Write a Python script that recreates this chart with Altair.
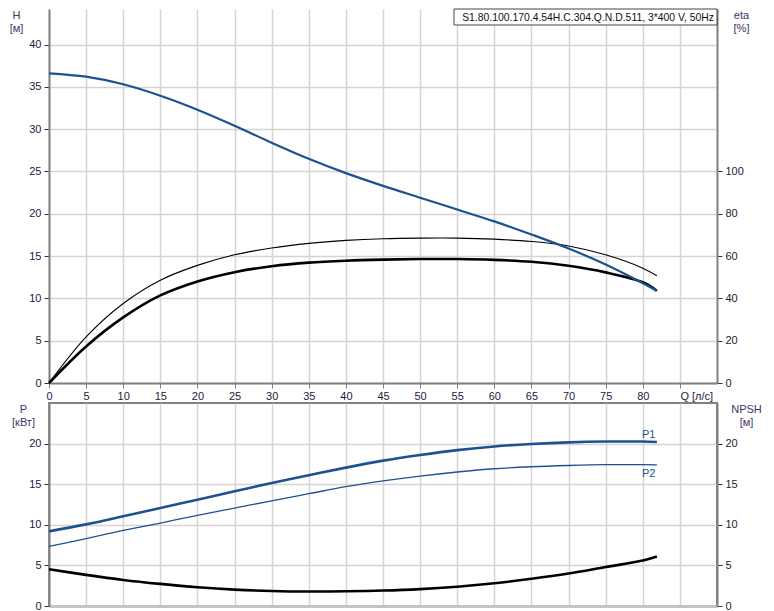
import altair as alt
import pandas as pd

# ---------------- data ----------------
Q = [0, 5, 10, 15, 20, 25, 30, 35, 40, 45, 50, 55, 60, 65, 70, 75, 80, 81.9]
H = [36.6, 36.2, 35.3, 33.95, 32.3, 30.4, 28.4, 26.5, 24.8, 23.3, 21.9, 20.5, 19.1, 17.55, 15.9, 14.0, 11.8, 10.9]
ETA = [0, 17.3, 31.0, 41.4, 48.0, 52.4, 55.2, 56.9, 57.8, 58.3, 58.6, 58.6, 58.2, 57.3, 55.4, 52.3, 47.6, 43.6]
ETA_THIN = [0, 21.8, 37.6, 48.6, 55.6, 60.6, 63.8, 66.0, 67.4, 68.2, 68.5, 68.5, 68.0, 66.9, 64.8, 60.6, 54.3, 50.7]
P1 = [9.19, 10.05, 11.04, 12.06, 13.09, 14.12, 15.15, 16.1, 17.04, 17.9, 18.6, 19.2, 19.65, 19.95, 20.15, 20.25, 20.25, 20.2]
P2 = [7.33, 8.3, 9.3, 10.22, 11.16, 12.06, 12.96, 13.83, 14.69, 15.4, 16.0, 16.5, 16.9, 17.15, 17.3, 17.4, 17.4, 17.37]
NPSH = [4.53, 3.83, 3.21, 2.72, 2.31, 2.02, 1.85, 1.78, 1.81, 1.9, 2.08, 2.38, 2.8, 3.35, 4.0, 4.8, 5.6, 6.1]

X_TICKS = [0, 5, 10, 15, 20, 25, 30, 35, 40, 45, 50, 55, 60, 65, 70, 75, 80, 85]
H_TICKS = [0, 5, 10, 15, 20, 25, 30, 35, 40]
ETA_TICKS = [0, 20, 40, 60, 80, 100]
P_TICKS = [0, 5, 10, 15, 20]
CURVE_LABELS = ["P1", "P2"]
CURVE_LABEL_Q = [80.8, 80.8]
CURVE_LABEL_P = [21.1, 16.3]
TITLE_TEXT = "S1.80.100.170.4.54H.C.304.Q.N.D.511, 3*400 V, 50Hz"

# ---------------- styling ----------------
FONT = "Liberation Sans"
BLUE = "#1d5290"
GRID = "#d4d4d4"
AX = "#808080"
LBL = "#1b1b3c"
TTL = "#46306a"
W = 668
H_TOP = 374
H_BOT = 203
INTERP = "catmull-rom"

dfH = pd.DataFrame({"Q": Q, "H": H})
dfEta = pd.DataFrame({"Q": Q, "eta": ETA})
dfEta2 = pd.DataFrame({"Q": Q, "eta": ETA_THIN})
dfP1 = pd.DataFrame({"Q": Q, "P": P1})
dfP2 = pd.DataFrame({"Q": Q, "P": P2})
dfN = pd.DataFrame({"Q": Q, "NPSH": NPSH})
dfLab = pd.DataFrame({"Q": CURVE_LABEL_Q, "P": CURVE_LABEL_P, "t": CURVE_LABELS})
dfTitle = pd.DataFrame({"t": [TITLE_TEXT]})

xs = alt.Scale(domain=[0, 90], nice=False, zero=False)

x_axis_top = alt.Axis(
    values=X_TICKS, grid=True, gridColor=GRID, gridWidth=1.5,
    domainColor=AX, domainWidth=2, tickColor=AX, tickSize=5, tickWidth=1,
    labelColor=LBL, labelFont=FONT, labelFontSize=11, labelPadding=2,
    labelOverlap=False, labelFlush=False,
    labelExpr="datum.value == 85 ? 'Q [л/с]' : datum.label",
    labelAlign={"condition": {"test": "datum.value == 85", "value": "left"}, "value": "center"},
    title=None,
)
x_axis_bot = alt.Axis(
    values=X_TICKS, grid=True, gridColor=GRID, gridWidth=1.5,
    domainColor="#c4c4c4", domainWidth=3, ticks=False, labels=False, title=None,
)


def yaxis(orient, values, title, tx, grid):
    return alt.Axis(
        orient=orient, values=values, grid=grid, gridColor=GRID, gridWidth=1.5,
        domainColor=AX, domainWidth=2, tickColor="#333333", tickSize=5,
        labelColor=LBL, labelFont=FONT, labelFontSize=11, labelPadding=3,
        title=title, titleAngle=0, titleAlign="center", titleBaseline="top",
        titleX=tx, titleY=0, titleFont=FONT, titleFontSize=11,
        titleFontWeight="normal", titleColor=TTL, titleLineHeight=13,
    )


h_scale = alt.Scale(domain=[0, 44.2], nice=False)
eta_scale = alt.Scale(domain=[0, 176.8], nice=False)
p_scale = alt.Scale(domain=[0, 25], nice=False)

# ---------------- top panel ----------------
h_line = alt.Chart(dfH).mark_line(color=BLUE, strokeWidth=2.2, interpolate=INTERP).encode(
    x=alt.X("Q:Q", scale=xs, axis=x_axis_top),
    y=alt.Y("H:Q", scale=h_scale, axis=yaxis("left", H_TICKS, ["H", "[м]"], -33, True)),
)
eta_line = alt.Chart(dfEta).mark_line(color="black", strokeWidth=2.6, interpolate=INTERP).encode(
    x=alt.X("Q:Q", scale=xs, axis=x_axis_top),
    y=alt.Y("eta:Q", scale=eta_scale, axis=yaxis("right", ETA_TICKS, ["eta", "[%]"], 24, False)),
)
eta_thin = alt.Chart(dfEta2).mark_line(color="black", strokeWidth=1.1, interpolate=INTERP).encode(
    x=alt.X("Q:Q", scale=xs, axis=x_axis_top),
    y=alt.Y("eta:Q", scale=eta_scale, axis=None),
)
box = alt.Chart(dfTitle).mark_rect(fill="white", stroke="#444444", strokeWidth=1).encode(
    x=alt.value(405), x2=alt.value(W), y=alt.value(0), y2=alt.value(16)
)
box_text = alt.Chart(dfTitle).mark_text(align="right", baseline="middle", font=FONT,
                                        fontSize=10.4, color="#111111").encode(
    x=alt.value(W - 3), y=alt.value(8.5), text="t:N"
)
top = alt.layer(eta_thin, eta_line, h_line, box, box_text).resolve_scale(y="independent").properties(
    width=W, height=H_TOP, view=alt.ViewBackground(stroke="transparent", fill="white")
)

# ---------------- bottom panel ----------------
p1_line = alt.Chart(dfP1).mark_line(color=BLUE, strokeWidth=2.6, interpolate=INTERP).encode(
    x=alt.X("Q:Q", scale=xs, axis=x_axis_bot),
    y=alt.Y("P:Q", scale=p_scale, axis=yaxis("left", P_TICKS, ["P", "[кВт]"], -26, True)),
)
p2_line = alt.Chart(dfP2).mark_line(color=BLUE, strokeWidth=1.3, interpolate=INTERP).encode(
    x=alt.X("Q:Q", scale=xs, axis=x_axis_bot),
    y=alt.Y("P:Q", scale=p_scale, axis=None),
)
npsh_line = alt.Chart(dfN).mark_line(color="black", strokeWidth=2.6, interpolate=INTERP).encode(
    x=alt.X("Q:Q", scale=xs, axis=x_axis_bot),
    y=alt.Y("NPSH:Q", scale=p_scale, axis=yaxis("right", P_TICKS, ["NPSH", "[м]"], 29, False)),
)
labels = alt.Chart(dfLab).mark_text(font=FONT, fontSize=11, color=BLUE, align="center",
                                    baseline="middle").encode(
    x=alt.X("Q:Q", scale=xs, axis=x_axis_bot),
    y=alt.Y("P:Q", scale=p_scale, axis=None),
    text="t:N",
)
bottom = alt.layer(p1_line, p2_line, npsh_line, labels).resolve_scale(y="independent").properties(
    width=W, height=H_BOT, view=alt.ViewBackground(stroke=AX, strokeWidth=2, fill="white")
)

chart = alt.vconcat(top, bottom, spacing=0).properties(
    padding={"left": 0, "top": 0, "right": 0, "bottom": 0},
    background="white",
)

chart.save("out.html", embed_options={"renderer": "svg", "actions": False})
